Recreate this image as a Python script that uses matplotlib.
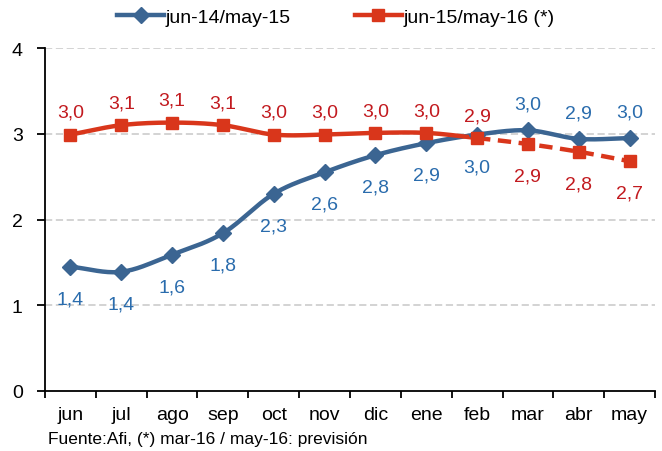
import numpy as np
import matplotlib
matplotlib.use("Agg")
import matplotlib.pyplot as plt
from matplotlib.lines import Line2D

plt.rcParams['font.family'] = ['Liberation Sans', 'DejaVu Sans']

months = ["jun", "jul", "ago", "sep", "oct", "nov", "dic", "ene", "feb", "mar", "abr", "may"]
serie1_name = "jun-14/may-15"
serie2_name = "jun-15/may-16 (*)"
serie1 = [1.45, 1.39, 1.59, 1.84, 2.30, 2.55, 2.75, 2.89, 2.99, 3.04, 2.94, 2.95]
serie2 = [2.99, 3.10, 3.13, 3.10, 2.99, 2.99, 3.01, 3.01, 2.95, 2.88, 2.79, 2.68]
labels1 = ["1,4", "1,4", "1,6", "1,8", "2,3", "2,6", "2,8", "2,9", "3,0", "3,0", "2,9", "3,0"]
labels2 = ["3,0", "3,1", "3,1", "3,1", "3,0", "3,0", "3,0", "3,0", "2,9", "2,9", "2,8", "2,7"]
forecast_start = 8  # feb: dashed from here
source = "Fuente:Afi, (*) mar-16 / may-16: previsión"

BLUE = "#3B6592"
BLUE_TXT = "#2A6CAD"
RED = "#D9361B"
RED_TXT = "#C21A1F"


def smooth(x, y, n=20):
    x = np.asarray(x, float); y = np.asarray(y, float)
    px = np.concatenate([[2 * x[0] - x[1]], x, [2 * x[-1] - x[-2]]])
    py = np.concatenate([[2 * y[0] - y[1]], y, [2 * y[-1] - y[-2]]])
    xs, ys = [], []
    t = np.linspace(0, 1, n)
    for i in range(1, len(px) - 2):
        p0, p1, p2, p3 = py[i - 1], py[i], py[i + 1], py[i + 2]
        q0, q1, q2, q3 = px[i - 1], px[i], px[i + 1], px[i + 2]
        m1y = (p2 - p0) / 6; m2y = (p3 - p1) / 6
        m1x = (q2 - q0) / 6; m2x = (q3 - q1) / 6
        b0 = (1 - t) ** 3; b1 = 3 * (1 - t) ** 2 * t; b2 = 3 * (1 - t) * t ** 2; b3 = t ** 3
        xs.append(b0 * q1 + b1 * (q1 + m1x) + b2 * (q2 - m2x) + b3 * q2)
        ys.append(b0 * p1 + b1 * (p1 + m1y) + b2 * (p2 - m2y) + b3 * p2)
    return np.concatenate(xs), np.concatenate(ys)


fig = plt.figure(figsize=(6.62, 4.52), dpi=100)
ax = fig.add_axes([45 / 662, 1 - 392 / 452, 610 / 662, 343 / 452])

x = np.arange(len(months))

# blue series
sx, sy = smooth(x, serie1)
ax.plot(sx, sy, color=BLUE, lw=3.2, solid_capstyle='round', zorder=3)
ax.plot(x, serie1, ls='none', marker='D', ms=8.5, color=BLUE, zorder=4)

# red series: solid then dashed
sx2, sy2 = smooth(x, serie2)
split = forecast_start * 20
ax.plot(sx2[:split], sy2[:split], color=RED, lw=3.2, solid_capstyle='round', zorder=3)
ax.plot(sx2[split:], sy2[split:], color=RED, lw=3.2, ls=(0, (3.0, 1.7)), zorder=3)
ax.plot(x, serie2, ls='none', marker='s', ms=8, color=RED, zorder=4)

for i in range(len(months)):
    first_part = i < forecast_start + 1
    ax.annotate(labels1[i], (x[i], serie1[i]), textcoords='offset points',
                xytext=(0, -23 if first_part else 19), ha='center', va='center',
                fontsize=14, color=BLUE_TXT)
    ax.annotate(labels2[i], (x[i], serie2[i]), textcoords='offset points',
                xytext=(0, 16 if first_part else -23), ha='center', va='center',
                fontsize=14, color=RED_TXT)

ax.set_xlim(-0.5, len(months) - 0.5)
ax.set_ylim(0, 4)
ax.set_yticks([0, 1, 2, 3, 4])
ax.set_yticklabels(["0", "1", "2", "3", "4"], fontsize=14)
for yv in [1, 2, 3, 4]:
    ax.axhline(yv, color='#d0d0d0', lw=1.3, ls=(0, (4, 2)), zorder=1)

ax.set_xticks(x)
ax.set_xticklabels(months, fontsize=14)
ax.set_xticks(np.arange(-0.5, len(months) + 0.5, 1), minor=True)
ax.tick_params(axis='x', which='major', length=0, pad=11)
ax.tick_params(axis='x', which='minor', length=5, width=1.3, direction='out')
ax.tick_params(axis='y', length=6, width=1.3, direction='out', pad=10)

for s in ['top', 'right']:
    ax.spines[s].set_visible(False)
for s in ['left', 'bottom']:
    ax.spines[s].set_linewidth(1.3)

handles = [Line2D([], [], color=BLUE, lw=3.2, marker='D', ms=8),
           Line2D([], [], color=RED, lw=3.2, marker='s', ms=8)]
fig.legend(handles, [serie1_name, serie2_name], loc='center', bbox_to_anchor=(336 / 662, 1 - 18 / 452),
           ncol=2, frameon=False, fontsize=14, handlelength=2.4, handletextpad=0.1,
           columnspacing=3.3, borderpad=0, borderaxespad=0)

fig.text(48 / 662, 1 - 440 / 452, source, fontsize=12.5, va='center', ha='left')

fig.savefig("out.png", dpi=100)
